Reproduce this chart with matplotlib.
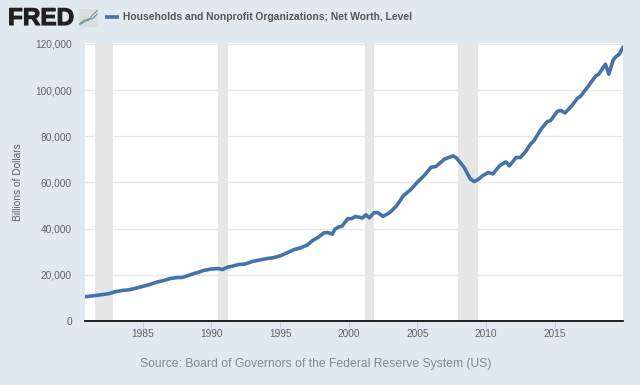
import matplotlib
matplotlib.use("Agg")
import matplotlib.pyplot as plt
import matplotlib.patheffects as pe
from matplotlib.lines import Line2D
from matplotlib.patches import Rectangle

plt.rcParams['font.family'] = ['Liberation Sans', 'DejaVu Sans']

years = [1980.8, 1981.5, 1982.0, 1982.5, 1983.0, 1983.5, 1984.0, 1984.5, 1985.0, 1985.5, 1986.0, 1986.5,
         1987.0, 1987.5, 1987.9, 1988.5, 1989.0, 1989.5, 1990.0, 1990.5, 1990.8, 1991.2, 1991.5, 1992.0, 1992.4,
         1993.0, 1993.5, 1994.0, 1994.5, 1995.0, 1995.5, 1996.0, 1996.5, 1997.0, 1997.4, 1997.8, 1998.2,
         1998.5, 1998.8, 1999.0, 1999.25,
         1999.5, 1999.93, 2000.2, 2000.5, 2001.0, 2001.25, 2001.5, 2001.85, 2002.1, 2002.5, 2003.0,
         2003.5, 2004.0, 2004.5, 2005.0, 2005.5, 2006.0, 2006.35, 2007.0, 2007.6, 2007.85, 2008.4,
         2008.85, 2009.15, 2009.4, 2009.75, 2010.15, 2010.5, 2011.0, 2011.45, 2011.7, 2012.2, 2012.5,
         2012.9, 2013.25, 2013.5, 2014.0, 2014.45, 2014.7, 2015.2, 2015.45, 2015.75, 2016.25, 2016.65,
         2016.9, 2017.45, 2018.0, 2018.2, 2018.7, 2018.95, 2019.25, 2019.45, 2019.7, 2019.97]
net_worth = [10500, 11000, 11400, 11800, 12700, 13200, 13500, 14200, 15000, 15800, 16800, 17500,
             18400, 18800, 18900, 20100, 21000, 22000, 22500, 22700, 22300, 23400, 23700, 24500, 24600,
             25800, 26400, 27000, 27400, 28200, 29500, 30900, 31700, 33000, 35000, 36300, 38200,
             38300, 37600, 39800, 40700,
             41000, 44300, 44300, 45300, 44600, 46000, 44700, 46900, 47000, 45300, 47000,
             50000, 54400, 56800, 60100, 63000, 66600, 66900, 70200, 71500, 70600, 66600,
             61600, 60400, 61200, 62900, 64300, 63700, 67300, 68900, 67200, 70800, 70800,
             73500, 76700, 78100, 83000, 86300, 86800, 90800, 91200, 90100, 93200, 96400,
             97400, 101700, 106200, 106800, 111200, 106900, 112900, 114400, 115500, 118400]
recessions = [(1981.5, 1982.85), (1990.5, 1991.2), (2001.2, 2001.85), (2007.93, 2009.42)]
y_ticks = [0, 20000, 40000, 60000, 80000, 100000, 120000]
x_ticks = [1985, 1990, 1995, 2000, 2005, 2010, 2015]
series_name = "Households and Nonprofit Organizations; Net Worth, Level"
source = "Source: Board of Governors of the Federal Reserve System (US)"

BG = "#e1e9f0"
LINE = "#4572a7"
W, H = 640, 385
fig = plt.figure(figsize=(W / 100, H / 100), dpi=100, facecolor=BG)
ax = fig.add_axes([85 / W, 1 - 321 / H, (623 - 85) / W, (321 - 43) / H])
ax.set_xlim(1980.79, 2019.98)
ax.set_ylim(0, 120400)

for a, b in recessions:
    ax.axvspan(a, b, color="#e6e6e6", lw=0, zorder=2)
ax.grid(axis="y", color="#e9e9e9", lw=1, zorder=1)
ax.set_axisbelow(True)
ax.plot(years, net_worth, color=LINE, lw=2.6, solid_joinstyle="round", zorder=3, clip_on=True)

for s in ("top", "left", "right"):
    ax.spines[s].set_visible(False)
ax.spines["bottom"].set_color("#111111")
ax.spines["bottom"].set_linewidth(1.3)
ax.spines["bottom"].set_zorder(5)
ax.set_yticks(y_ticks)
ax.set_yticklabels([f"{v:,}" for v in y_ticks])
ax.set_xticks(x_ticks)
ax.tick_params(axis="y", length=0, pad=9.5, labelsize=7.3, labelcolor="#606060")
ax.tick_params(axis="x", length=6, width=0.7, color="#c0d0e0", pad=-0.5, labelsize=7.3, labelcolor="#606060")
ax.set_ylabel("Billions of Dollars", fontsize=7.3, color="#606060")
ax.yaxis.set_label_coords(-62 / (623 - 85), 0.5)

fig.text(8 / W, 1 - 18.5 / H, "FRED", fontsize=17.5, fontweight="bold", color="#231f20",
         ha="left", va="center", family=["Liberation Sans"],
         path_effects=[pe.withStroke(linewidth=0.8, foreground="#231f20")])

# small logo chart
logo = fig.add_axes([79 / W, 1 - 27 / H, 19 / W, 18 / H], facecolor="#dde3e6")
logo.axis("off")
logo.add_patch(Rectangle((0, 0), 1, 1, transform=logo.transAxes, color="#d8dde0", lw=0))
logo.plot([0.05, 0.3, 0.5, 0.7, 0.95], [0.2, 0.4, 0.35, 0.65, 0.9], color="#7fa87a", lw=0.9)
logo.plot([0.05, 0.3, 0.5, 0.7, 0.95], [0.15, 0.3, 0.45, 0.45, 0.7], color="#6f93b8", lw=0.9)
logo.set_xlim(0, 1)
logo.set_ylim(0, 1)

fig.add_artist(Line2D([105 / W, 119 / W], [1 - 17 / H] * 2, color=LINE, lw=2.6, solid_capstyle="butt"))
fig.text(123 / W, 1 - 17 / H, series_name, fontsize=7.4, fontweight="bold", color="#555555",
         ha="left", va="center")
fig.text(316 / W, 1 - 363.5 / H, source, fontsize=8.7, color="#808890", ha="center", va="center")

fig.savefig("out.png", dpi=100, facecolor=BG)
